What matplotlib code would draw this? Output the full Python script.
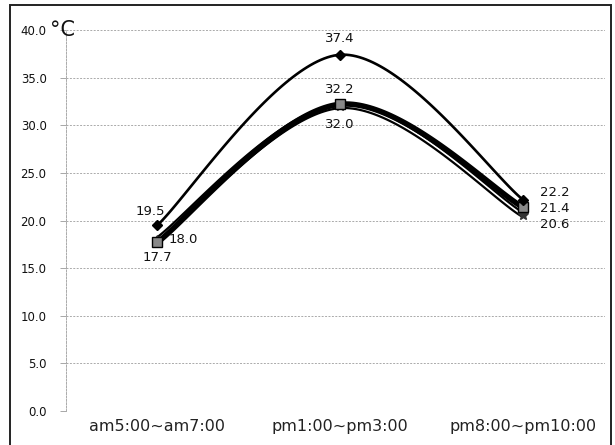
import numpy as np
import matplotlib.pyplot as plt
from matplotlib.patches import Rectangle

categories = ["am5:00~am7:00", "pm1:00~pm3:00", "pm8:00~pm10:00"]
series_a = [19.5, 37.4, 22.2]
series_b = [17.7, 32.2, 21.4]
series_c = [18.0, 32.0, 20.6]
yticks = [0, 5, 10, 15, 20, 25, 30, 35, 40]


def smooth(xs, ys, n=60):
    # Catmull-Rom style smoothing like Excel's "smoothed line"
    xs = np.asarray(xs, float)
    ys = np.asarray(ys, float)
    px = np.concatenate([[xs[0]], xs, [xs[-1]]])
    py = np.concatenate([[ys[0]], ys, [ys[-1]]])
    ox, oy = [], []
    for i in range(1, len(px) - 2):
        p0x, p1x, p2x, p3x = px[i - 1], px[i], px[i + 1], px[i + 2]
        p0y, p1y, p2y, p3y = py[i - 1], py[i], py[i + 1], py[i + 2]
        c1x, c1y = p1x + (p2x - p0x) / 6, p1y + (p2y - p0y) / 6
        c2x, c2y = p2x - (p3x - p1x) / 6, p2y - (p3y - p1y) / 6
        t = np.linspace(0, 1, n)
        b0, b1, b2, b3 = (1 - t) ** 3, 3 * t * (1 - t) ** 2, 3 * t ** 2 * (1 - t), t ** 3
        ox.append(b0 * p1x + b1 * c1x + b2 * c2x + b3 * p2x)
        oy.append(b0 * p1y + b1 * c1y + b2 * c2y + b3 * p2y)
    return np.concatenate(ox), np.concatenate(oy)


fig = plt.figure(figsize=(6.15, 4.45), dpi=100)
ax = fig.add_axes([66 / 615, 1 - 411 / 445, (605 - 66) / 615, (411 - 30) / 445])

x = np.arange(len(categories))

# series C: outlined line
sx, sy = smooth(x, series_c)
ax.plot(sx, sy, color="black", lw=4.4, solid_capstyle="round", zorder=3)
ax.plot(sx, sy, color="white", lw=1.2, zorder=3.1)
ax.plot(x, series_c, ls="none", marker="*", ms=7, color="#333333", zorder=4)

# series B: thick solid
sx, sy = smooth(x, series_b)
ax.plot(sx, sy, color="black", lw=4.0, solid_capstyle="round", zorder=5)
ax.plot(x, series_b, ls="none", marker="s", ms=7, mfc="#888888", mec="black", mew=1, zorder=6)

# series A: thin with diamonds
sx, sy = smooth(x, series_a)
ax.plot(sx, sy, color="black", lw=1.9, zorder=7)
ax.plot(x, series_a, ls="none", marker="D", ms=5, color="black", zorder=8)

lab = dict(fontsize=9.5, color="#111111", ha="center", va="center", textcoords="offset points")
ax.annotate(f"{series_a[0]:.1f}", (x[0], series_a[0]), xytext=(-5, 10), **lab)
ax.annotate(f"{series_a[1]:.1f}", (x[1], series_a[1]), xytext=(0, 12), **lab)
ax.annotate(f"{series_a[2]:.1f}", (x[2], series_a[2]), xytext=(23, 5), **lab)
ax.annotate(f"{series_b[0]:.1f}", (x[0], series_b[0]), xytext=(0, -11), **lab)
ax.annotate(f"{series_b[1]:.1f}", (x[1], series_b[1]), xytext=(0, 11), **lab)
ax.annotate(f"{series_b[2]:.1f}", (x[2], series_b[2]), xytext=(23, -1), **lab)
ax.annotate(f"{series_c[0]:.1f}", (x[0], series_c[0]), xytext=(19, 0), **lab)
ax.annotate(f"{series_c[1]:.1f}", (x[1], series_c[1]), xytext=(0, -13), **lab)
ax.annotate(f"{series_c[2]:.1f}", (x[2], series_c[2]), xytext=(23, -7), **lab)

ax.set_xlim(-0.5, 2.45)
ax.set_ylim(0, 40)
ax.set_yticks(yticks)
ax.set_yticklabels([f"{v:.1f}" for v in yticks], fontsize=8.5, color="#111111")
ax.set_xticks(x)
ax.set_xticklabels(categories, fontsize=11.5, color="#222222")
ax.tick_params(axis="x", length=0, pad=6)
ax.tick_params(axis="y", length=4, width=0.6, color="#999999", pad=10)

for v in yticks[1:]:
    ax.axhline(v, color="#aaaaaa", lw=0.7, ls=(0, (2, 1.5)), zorder=1)

for s in ["top", "right", "bottom"]:
    ax.spines[s].set_visible(False)
ax.spines["left"].set_color("#aaaaaa")
ax.spines["left"].set_linestyle((0, (2, 1.5)))
ax.spines["left"].set_linewidth(0.7)

fig.text(50 / 615, 1 - 30 / 445, "°C", fontsize=15, ha="left", va="center", color="#111111")

fig.patches.append(Rectangle((10 / 615, -0.02), 601 / 615, 1 - 5 / 445 + 0.02,
                             transform=fig.transFigure, fill=False, ec="#222222", lw=1.4))

fig.savefig("out.png", dpi=100)
